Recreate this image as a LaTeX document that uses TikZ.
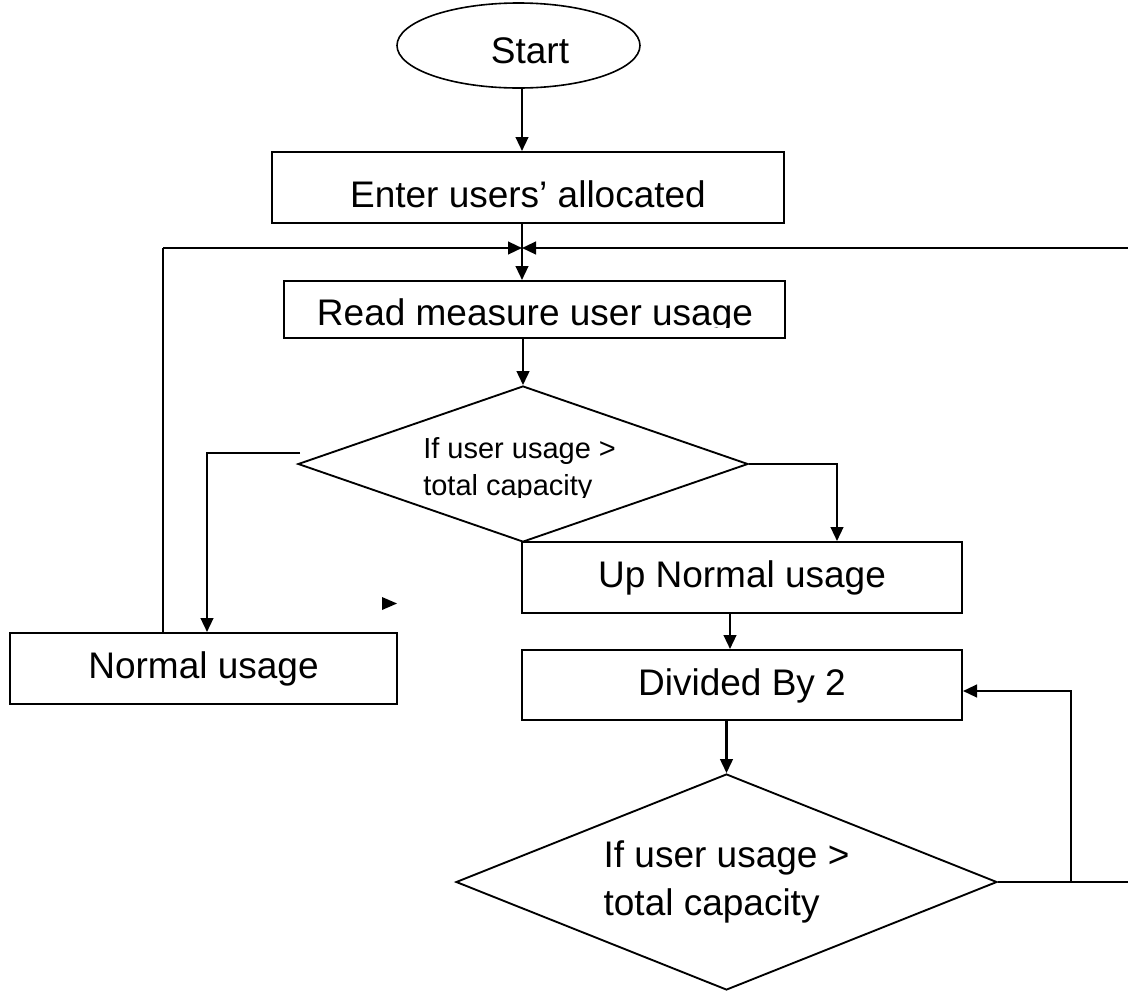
\documentclass[tikz,border=0pt]{standalone}
\usepackage{fontspec}
\setmainfont{Liberation Sans}
\usetikzlibrary{arrows.meta,shapes.geometric}
\begin{document}
\begin{tikzpicture}[x=0.75pt,y=-0.75pt,
  flow/.style={line width=1.7pt},
  arr/.style={flow,-{Triangle[length=10.5pt,width=9.5pt]}},
  thinflow/.style={line width=1pt},
  boxstyle/.style={draw,line width=1.5pt,rectangle,inner sep=0pt},
  decision/.style={draw,diamond,line width=1.4pt,inner sep=0pt},
  bigtext/.style={font=\fontsize{27.75pt}{36pt}\selectfont},
  smalltext/.style={font=\fontsize{21.75pt}{27.75pt}\selectfont}]
\useasboundingbox (0,0) rectangle (1128,993);

% process steps
\node[ellipse,draw,line width=1.2pt,minimum width=182.25pt,minimum height=63.75pt,
      inner sep=0pt,bigtext,text height=26.25pt,text depth=0pt] (start) at (518.5,45.5)
      {\hspace*{17.25pt}Start};
\node[boxstyle,minimum width=384pt,minimum height=53.25pt,bigtext,
      text height=29.25pt,text depth=0pt] (enter) at (528,187.5) {Enter users’ allocated};
\node[boxstyle,minimum width=375.75pt,minimum height=42.75pt] (read) at (534.5,309.5) {};
\begin{scope}
  \clip (284,281) rectangle (785,327);
  \node[bigtext,anchor=base,inner sep=0pt] (readtext) at (535,325) {Read measure user usage};
\end{scope}

\node[decision,minimum width=337.5pt,minimum height=117pt] (d1) at (523,464) {};
\begin{scope}
  \clip (300,380) rectangle (750,497);
  \node[anchor=base west,align=left,inner sep=0pt,smalltext] (d1text) at (423,495)
        {If user usage >\\total capacity};
\end{scope}

\node[boxstyle,minimum width=330pt,minimum height=53.25pt,bigtext,
      text height=20pt,text depth=5.75pt] (up) at (742,577.5) {Up Normal usage};
\node[boxstyle,minimum width=290.25pt,minimum height=53.25pt,bigtext,
      text height=20pt,text depth=5.75pt] (normal) at (203.5,668.5) {Normal usage};
\node[boxstyle,minimum width=330pt,minimum height=52.5pt,bigtext,
      text height=20pt,text depth=5pt] (div) at (742,685) {Divided By 2};
\node[decision,minimum width=405.75pt,minimum height=162pt,aspect=2.5,
      align=left,bigtext] (d2) at (726.5,882) {If user usage >\\total capacity};

% routing points
\coordinate (jn) at (522,248);
\coordinate (loopL) at (163,248);
\coordinate (edgeTop) at (1128,248);
\coordinate (d1left) at (300,453);
\coordinate (d1right) at (837,465);
\coordinate (loopR) at (1071,882);
\coordinate (edgeBot) at (1128,882);

% connectors
\draw[arr] (start.south -| jn) -- (enter.north -| jn);
\draw[flow] (enter.south -| jn) -- (jn);
\draw[arr] (jn) -- (read.north -| jn);
\draw[thinflow] (normal.north -| loopL) -- (loopL);
\draw[arr] (loopL) -- (jn);
\draw[arr] (edgeTop) -- (jn);
\draw[arr] (read.south -| d1.north) -- (d1.north);
\draw[arr] (d1left) -| ([xshift=2.625pt]normal.north);
\draw[arr] (d1.east) -| (up.north -| d1right);
\draw[arr] ([xshift=-9pt]up.south) -- ([xshift=-9pt]div.north);
\draw[arr] (div.south -| d2.north) -- (d2.north);
\draw[flow] (d2.east) -- (edgeBot);
\draw[arr] (loopR) |- ([yshift=-4.5pt]div.east);

% loose arrow head
\fill (382,597) -- (397,603.5) -- (382,610) -- cycle;
\end{tikzpicture}
\end{document}
